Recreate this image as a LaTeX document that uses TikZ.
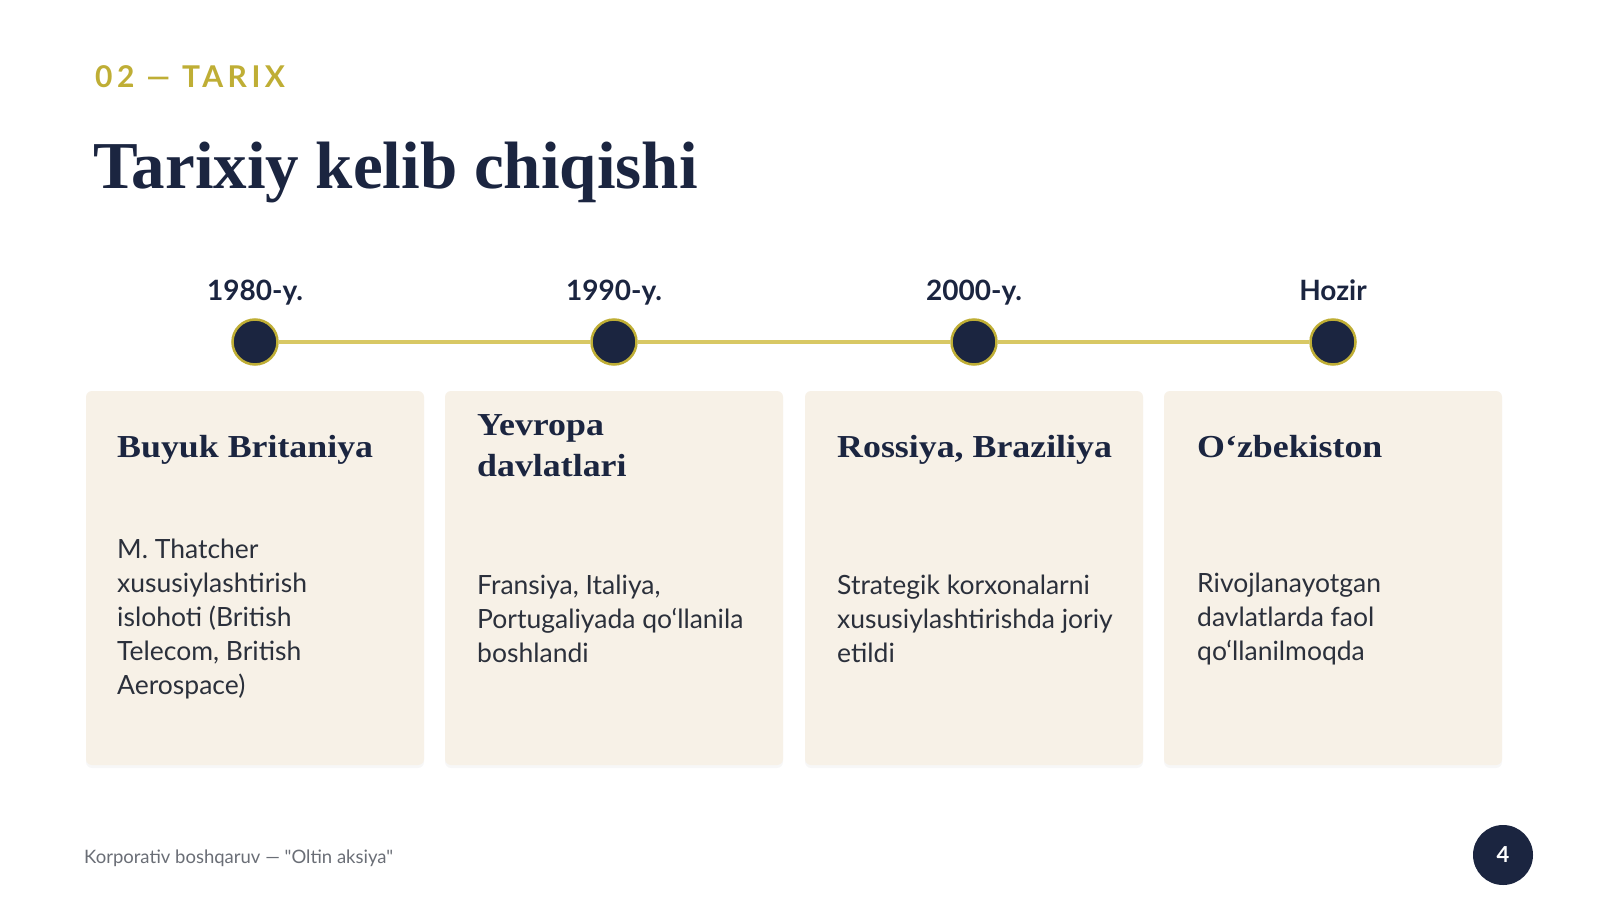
\documentclass[tikz,border=0pt]{standalone}
\usepackage{fontspec}
\setmainfont{Lato}[Ligatures=TeXOff]
\newfontfamily\headfont{Liberation Serif}
\newfontfamily\cardfont[FakeStretch=1.12]{Liberation Serif}
\newfontfamily\kickerfont[LetterSpace=15]{Lato}
\usetikzlibrary{shadows}

\definecolor{navy}{HTML}{1B2540}
\definecolor{gold}{HTML}{BFAE35}
\definecolor{goldline}{HTML}{D8C864}
\definecolor{cream}{HTML}{F7F1E7}
\definecolor{bodygray}{HTML}{2B303B}
\definecolor{footgray}{HTML}{6A6E76}

\tikzset{
  card/.style={rectangle, rounded corners=6pt, fill=cream, minimum width=338pt,
    minimum height=374pt, drop shadow={shadow xshift=0pt, shadow yshift=-3pt, opacity=0.06}},
  dot/.style={circle, fill=navy, draw=gold, line width=2.5pt, minimum size=45pt, inner sep=0pt},
  year/.style={anchor=base, font=\bfseries\fontsize{28}{32}\selectfont, text=navy},
  cardtitle/.style={anchor=base west, align=left, inner sep=0pt, text=navy,
    font=\cardfont\bfseries\fontsize{32}{41}\selectfont},
  cardbody/.style={anchor=west, align=left, inner sep=0pt, text=bodygray,
    font=\fontsize{26.5}{34}\selectfont},
}

\begin{document}
\begin{tikzpicture}[x=1pt, y=-1pt]
    \useasboundingbox[fill=white] (0,0) rectangle (1600,899);

    % heading
    \node[anchor=west, inner sep=0pt, text=gold, font=\kickerfont\bfseries\fontsize{30}{34}\selectfont]
      (kicker) at (95,77) {02 — TARIX};
    \node[anchor=base west, inner sep=0pt, text=navy, font=\headfont\bfseries\fontsize{67}{70}\selectfont]
      (title) at (93,188) {Tarixiy kelib chiqishi};

    % cards
    \begin{scope}[every node/.style={card}]
      \node (c1) at (255,578) {};
      \node (c2) at (614,578) {};
      \node (c3) at (974,578) {};
      \node (c4) at (1333,578) {};
    \end{scope}

    % timeline
    \begin{scope}[every node/.style={dot}]
      \node (d1) at (255,342) {};
      \node (d2) at (614,342) {};
      \node (d3) at (974,342) {};
      \node (d4) at (1333,342) {};
    \end{scope}
    \draw[goldline, line width=4pt] (d1) -- (d2);
    \draw[goldline, line width=4pt] (d2) -- (d3);
    \draw[goldline, line width=4pt] (d3) -- (d4);

    \begin{scope}[every node/.style={year}]
      \node (y1) at (255,300) {1980-y.};
      \node (y2) at (614,300) {1990-y.};
      \node (y3) at (974,300) {2000-y.};
      \node (y4) at (1333,300) {Hozir};
    \end{scope}

    \begin{scope}[every node/.style={cardtitle}]
      \node (t1) at (117,457) {Buyuk Britaniya};
      \node[anchor=west] (t2) at (477,446) {Yevropa\\davlatlari};
      \node (t3) at (837,457) {Rossiya, Braziliya};
      \node (t4) at (1197,457) {O‘zbekiston};
    \end{scope}

    \begin{scope}[every node/.style={cardbody}]
      \node (b1) at (117,619) {M. Thatcher\\xususiylashtirish\\islohoti (British\\Telecom, British\\Aerospace)};
      \node (b2) at (477,619) {Fransiya, Italiya,\\Portugaliyada qo‘llanila\\boshlandi};
      \node (b3) at (837,619) {Strategik korxonalarni\\xususiylashtirishda joriy\\etildi};
      \node (b4) at (1197,619) {Rivojlanayotgan\\davlatlarda faol\\qo‘llanilmoqda};
    \end{scope}

    % footer
    \node[anchor=west, inner sep=0pt, text=footgray, font=\fontsize{18.5}{20}\selectfont]
      (foot) at (84,858) {Korporativ boshqaruv — "Oltin aksiya"};
    \node[circle, fill=navy, minimum size=60pt, inner sep=0pt, text=white,
      font=\bfseries\fontsize{22}{24}\selectfont] (page) at (1503,855) {4};
\end{tikzpicture}
\end{document}
